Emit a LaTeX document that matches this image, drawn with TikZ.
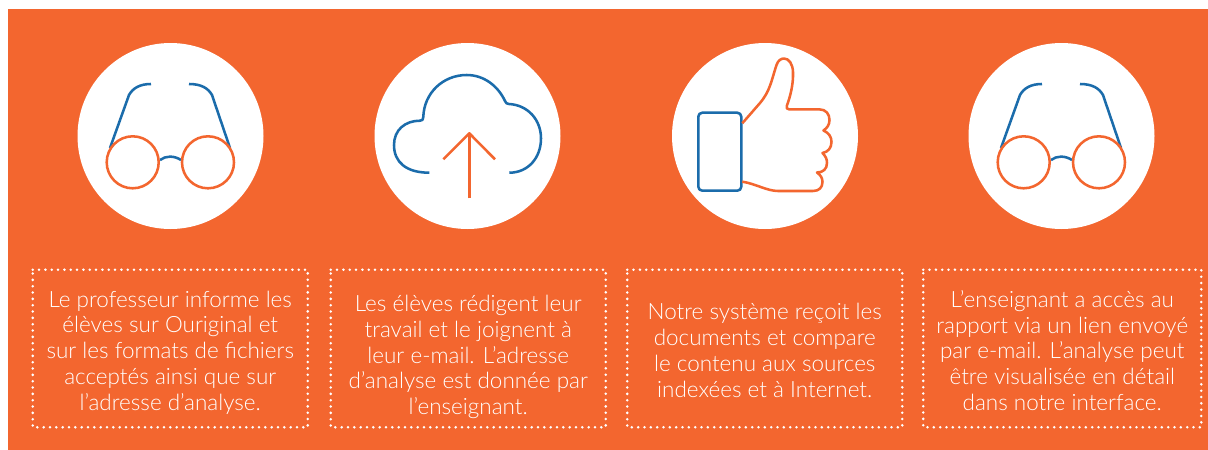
\documentclass[tikz,border=0pt]{standalone}
\usepackage{fontspec}
\setmainfont{Lato}[UprightFont=* Light]
\definecolor{org}{HTML}{F3662F}
\definecolor{blu}{HTML}{1B6CAB}
\tikzset{x=0.75pt,y=-0.75pt,
 disc/.style={circle,fill=white,minimum size=139.5pt,inner sep=0pt},
 bl/.style={draw=blu,line width=1.9pt,line join=round},
 og/.style={draw=org,line width=1.9pt,line join=round},
 txtbox/.style={minimum width=205.5pt,minimum height=117.75pt,inner sep=0pt,text=white,align=center,font=\fontsize{16.85pt}{19.3pt}\selectfont},
 dots/.style={draw=white,line width=2.1pt,line cap=round,dash pattern=on 0pt off 4.75pt}}
\newcommand{\glasses}[1]{%
 \begin{scope}[shift={(#1,0)}]
 \draw[bl] (-60,148) -- (-41,95) .. controls (-37,88) and (-30,84) .. (-19,84);
 \draw[bl] (60,148) -- (42,95) .. controls (38,88) and (31,84) .. (19,84);
 \draw[bl] (-10,160) .. controls (-4,155.5) and (4,155.5) .. (11,160);
 \draw[og] (-37.3,162.3) circle[radius=26];
 \draw[og] (38,162.3) circle[radius=26];
 \end{scope}}
\newcommand{\dotbox}[5]{%
 \node[txtbox,minimum width={(#2-#1)*0.75pt}] (#5) at ({(#1+#2)/2},{(#3+#4)/2}) {};
 \draw[dots] (#5.north west) -- (#5.north east) -- (#5.south east) -- (#5.south west) -- cycle;}
\begin{document}
\begin{tikzpicture}
\useasboundingbox (0,0) rectangle (1208,450);
\fill[white] (0,0) rectangle (1208,450);
\fill[org] (8,9) rectangle (1208,450);
\node[disc] (c1) at (170.5,136) {};
\node[disc] (c2) at (467.5,136) {};
\node[disc] (c3) at (765,136) {};
\node[disc] (c4) at (1061.5,136) {};
\glasses{170}
\glasses{1061}
% cloud
\draw[bl,line cap=butt] (429.3,172.7) .. controls (406,172.7) and (394,162) .. (394,145)
 .. controls (394,130) and (405,120.7) .. (420,120.7)
 .. controls (422.5,120.7) and (423.3,119.5) .. (423.3,117)
 .. controls (424,93) and (443,75) .. (466.7,75)
 .. controls (484,75) and (498,86) .. (505,101)
 .. controls (505.5,103) and (507,104) .. (509,104)
 .. controls (528,105) and (541,120) .. (541,138.3)
 .. controls (541,158) and (528,172.7) .. (509.3,172.7);
\draw[og] (469.3,198.3) -- (469.3,133.3);
\draw[og] (443.3,159.3) -- (469.3,133.3) -- (495,159.3);
% thumb
\draw[bl,rounded corners=3] (698.3,112.7) rectangle (741.3,190.7);
\draw[og] (742.3,123.3) -- (760,103) .. controls (770,91) and (771,82) .. (776.5,65)
 .. controls (778,60.5) and (781,58.5) .. (784,58.5)
 .. controls (789,58.5) and (792.7,64) .. (793,72)
 .. controls (793.5,85) and (790,97) .. (786.8,106)
 .. controls (786.2,108) and (787,109.3) .. (789,109.3)
 -- (819,109.3) .. controls (826,109.3) and (829.5,114) .. (829.5,120)
 .. controls (829.5,125) and (827,128) .. (823.5,130.5)
 .. controls (829,133) and (831.5,137) .. (831.5,142)
 .. controls (831.5,148) and (828,152) .. (822.5,153)
 .. controls (825.5,156) and (827,159) .. (827,163)
 .. controls (827,169) and (823,172.5) .. (817,172.5)
 .. controls (820.5,175) and (822.5,178) .. (822.5,182)
 .. controls (822.5,187.5) and (819,191) .. (813,191)
 -- (778,191) .. controls (767,191) and (755,183.5) .. (742.3,181.7);
% boxes
\dotbox{33}{307.5}{270}{427}{b1}
\dotbox{331}{605.5}{270}{427}{b2}
\dotbox{627.5}{902}{270}{427}{b3}
\dotbox{923.5}{1201}{270}{427}{b4}
\node[txtbox] (t1) at ([yshift=-3pt]b1) {Le professeur informe les\\élèves sur Ouriginal et\\sur les formats de fichiers\\acceptés ainsi que sur\\l’adresse d’analyse.};
\node[txtbox] (t2) at ([yshift=-6.5pt]b2) {Les élèves rédigent leur\\travail et le joignent à\\leur e-mail. L’adresse\\d’analyse est donnée par\\l’enseignant.};
\node[txtbox] (t3) at ([yshift=-1.5pt]b3) {Notre système reçoit les\\documents et compare\\le contenu aux sources\\indexées et à Internet.};
\node[txtbox] (t4) at ([yshift=-1.5pt]b4) {L’enseignant a accès au\\rapport via un lien envoyé\\par e-mail. L’analyse peut\\être visualisée en détail\\dans notre interface.};
\end{tikzpicture}
\end{document}
